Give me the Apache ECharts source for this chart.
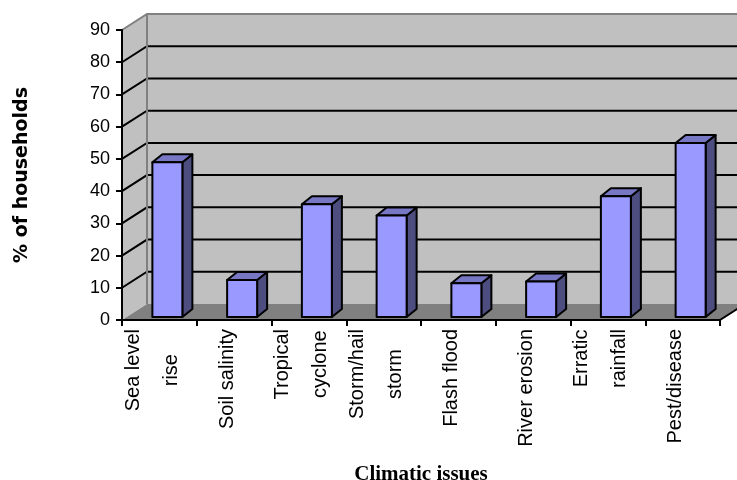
<!DOCTYPE html>
<html>
<head>
<meta charset="utf-8">
<script src="https://cdn.jsdelivr.net/npm/echarts@6/dist/echarts.min.js"></script>
<style>
  html, body { margin: 0; padding: 0; background: #ffffff; }
  #chart { width: 737px; height: 480px; }
</style>
</head>
<body>
<div id="chart"></div>
<script>
// Climatic issues reported by households (% of households)
const categories = [
  'Sea level\nrise',
  'Soil salinity',
  'Tropical\ncyclone',
  'Storm/hail\nstorm',
  'Flash flood',
  'River erosion',
  'Erratic\nrainfall',
  'Pest/disease'
];
const households = [48, 11.5, 35, 31.5, 10.5, 11, 37.5, 54];
const valueMin = 0;
const valueMax = 90;
const valueStep = 10;

// 3-D look: depth of the walls and of each column
const WALL_DEPTH = [25, -16];
const BAR_DEPTH = [10, -8];
const BAR_OFFSET = [8, -3];
const BAR_WIDTH = 30;

const chart = echarts.init(document.getElementById('chart'), null, { renderer: 'canvas' });

function renderWalls(params, api) {
  const cs = params.coordSys;
  const x0 = cs.x, x1 = cs.x + cs.width;
  const dx = WALL_DEPTH[0], dy = WALL_DEPTH[1];
  const yBase = api.coord([0, valueMin])[1];
  const yTop = api.coord([0, valueMax])[1];
  const children = [];

  // side wall
  children.push({
    type: 'polygon',
    shape: { points: [[x0, yBase], [x0, yTop], [x0 + dx, yTop + dy], [x0 + dx, yBase + dy]] },
    style: { fill: '#c0c0c0', stroke: null }
  });
  // back wall
  children.push({
    type: 'polygon',
    shape: { points: [[x0 + dx, yTop + dy], [x1 + dx, yTop + dy], [x1 + dx, yBase + dy], [x0 + dx, yBase + dy]] },
    style: { fill: '#c0c0c0', stroke: null }
  });
  // floor
  children.push({
    type: 'polygon',
    shape: { points: [[x0, yBase], [x1, yBase], [x1 + dx, yBase + dy], [x0 + dx, yBase + dy]] },
    style: { fill: '#808080', stroke: null }
  });
  // gridlines folded across the side and back walls
  for (let v = valueMin + valueStep; v < valueMax; v += valueStep) {
    const y = api.coord([0, v])[1];
    children.push({
      type: 'polyline',
      shape: { points: [[x0, y], [x0 + dx, y + dy], [x1 + dx, y + dy]] },
      style: { stroke: '#000000', lineWidth: 2, fill: null }
    });
  }
  // wall borders
  children.push({
    type: 'polyline',
    shape: { points: [[x0, yTop], [x0 + dx, yTop + dy], [x1 + dx, yTop + dy]] },
    style: { stroke: '#808080', lineWidth: 2, fill: null }
  });
  children.push({
    type: 'line',
    shape: { x1: x0 + dx, y1: yTop + dy, x2: x0 + dx, y2: yBase + dy },
    style: { stroke: '#808080', lineWidth: 2 }
  });
  children.push({
    type: 'line',
    shape: { x1: x1, y1: yBase, x2: x1 + dx, y2: yBase + dy },
    style: { stroke: '#000000', lineWidth: 2 }
  });
  return { type: 'group', children: children };
}

function renderColumn(params, api) {
  const idx = api.value(0);
  const v = api.value(1);
  const base = api.coord([idx, valueMin]);
  const top = api.coord([idx, v]);
  const cx = base[0] + BAR_OFFSET[0];
  const yb = base[1] + BAR_OFFSET[1];
  const yt = top[1] + BAR_OFFSET[1];
  const l = cx - BAR_WIDTH / 2, r = cx + BAR_WIDTH / 2;
  const sx = BAR_DEPTH[0], sy = BAR_DEPTH[1];
  const edge = { stroke: '#000000', lineWidth: 2, lineJoin: 'round' };
  return {
    type: 'group',
    children: [
      {
        type: 'polygon',
        shape: { points: [[r, yb], [r, yt], [r + sx, yt + sy], [r + sx, yb + sy]] },
        style: Object.assign({ fill: '#4d4d80' }, edge)
      },
      {
        type: 'polygon',
        shape: { points: [[l, yt], [r, yt], [r + sx, yt + sy], [l + sx, yt + sy]] },
        style: Object.assign({ fill: '#7777c4' }, edge)
      },
      {
        type: 'rect',
        shape: { x: l, y: yt, width: BAR_WIDTH, height: yb - yt },
        style: Object.assign({ fill: '#9999ff' }, edge)
      }
    ]
  };
}

const option = {
  backgroundColor: '#ffffff',
  animation: false,
  grid: {
    left: 122, right: 17, top: 30, bottom: 160,
    containLabel: false,
    outerBoundsMode: 'none'
  },
  xAxis: {
    type: 'category',
    data: categories,
    z: 5,
    name: 'Climatic issues',
    nameLocation: 'middle',
    nameGap: 144,
    nameTextStyle: {
      fontFamily: 'Liberation Serif',
      fontWeight: 'bold',
      fontSize: 21,
      color: '#000000'
    },
    axisLine: { show: true, lineStyle: { color: '#000000', width: 2 } },
    axisTick: { show: true, length: 6, alignWithLabel: false, lineStyle: { color: '#000000', width: 2 } },
    splitLine: { show: false },
    axisLabel: {
      interval: 0,
      rotate: 90,
      margin: 9,
      padding: [0, 0, 14, 0],
      formatter: function (value) {
        return value.split('\n').map(function (s) { return '{c|' + s + '}'; }).join('\n');
      },
      rich: {
        c: {
          align: 'center',
          lineHeight: 38,
          fontSize: 20,
          fontFamily: 'Liberation Sans',
          color: '#000000'
        }
      }
    }
  },
  yAxis: {
    type: 'value',
    min: valueMin,
    max: valueMax,
    interval: valueStep,
    z: 5,
    name: '% of households',
    nameLocation: 'middle',
    nameRotate: 90,
    nameGap: 90,
    nameTextStyle: {
      fontFamily: 'DejaVu Sans',
      fontWeight: 'bold',
      fontSize: 19,
      color: '#000000'
    },
    axisLine: { show: true, lineStyle: { color: '#000000', width: 2 } },
    axisTick: { show: true, length: 6, lineStyle: { color: '#000000', width: 2 } },
    splitLine: { show: false },
    axisLabel: {
      margin: 12,
      fontSize: 18,
      fontFamily: 'Liberation Sans',
      color: '#000000'
    }
  },
  series: [
    {
      type: 'custom',
      name: 'walls',
      z: 1,
      silent: true,
      clip: false,
      renderItem: renderWalls,
      data: [[0, 0]]
    },
    {
      type: 'custom',
      name: '% of households',
      z: 3,
      clip: false,
      renderItem: renderColumn,
      encode: { x: 0, y: 1 },
      data: households.map(function (v, i) { return [i, v]; })
    }
  ]
};

chart.setOption(option);
</script>
</body>
</html>
